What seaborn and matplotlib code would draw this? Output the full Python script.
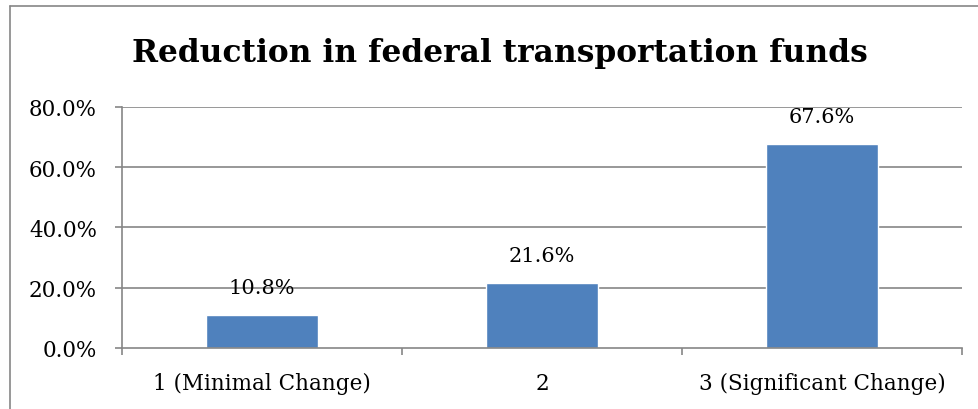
import pandas as pd
import numpy as np
import matplotlib
matplotlib.use("Agg")
import matplotlib.pyplot as plt
import seaborn as sns
from matplotlib.lines import Line2D

# Datos
categorias = ["1 (Minimal Change)", "2", "3 (Significant Change)"]
porcentajes = [10.8, 21.6, 67.6]
ticks_y = [0, 20, 40, 60, 80]

COLOR_BARRA = "#4F81BD"
GRIS = "#868686"

def generar_grafico():
    df = pd.DataFrame({"Categoria": categorias, "Porcentaje": porcentajes})

    sns.set_theme(style="white")
    plt.rcParams["font.family"] = ["DejaVu Serif", "Liberation Serif"]
    plt.rcParams["text.color"] = "black"
    plt.rcParams["xtick.labelcolor"] = "black"
    plt.rcParams["ytick.labelcolor"] = "black"

    fig = plt.figure(figsize=(9.79, 4.10), dpi=100)
    ax = fig.add_axes([0.1246, 0.1488, 0.858, 0.5878])

    sns.barplot(data=df, x="Categoria", y="Porcentaje", color=COLOR_BARRA,
                width=0.4, saturation=1, ax=ax)

    ax.set_ylim(0, 80)
    ax.set_xlim(-0.5, len(categorias) - 0.5)
    ax.set_yticks(ticks_y)
    ax.set_yticklabels([f"{v:.1f}%" for v in ticks_y], fontsize=15.5, color="black")

    # rejilla horizontal
    for v in ticks_y[1:]:
        ax.axhline(v, color=GRIS, linewidth=1.2, zorder=0)

    # marcas del eje x en los límites de categoría, etiquetas centradas
    ax.set_xticks(np.arange(-0.5, len(categorias), 1.0))
    ax.set_xticklabels([])
    ax.set_xticks(np.arange(len(categorias)), minor=True)
    ax.set_xticklabels(categorias, minor=True, fontsize=15.5, color="black")
    ax.tick_params(axis="x", which="minor", length=0, pad=17)
    ax.tick_params(axis="x", which="major", length=5, width=1.2, color=GRIS, direction="out", bottom=True)
    ax.tick_params(axis="y", length=5, width=1.2, color=GRIS, direction="out", left=True, pad=13)
    ax.set_xlabel("")
    ax.set_ylabel("")

    for lado in ["top", "right"]:
        ax.spines[lado].set_visible(False)
    for lado in ["left", "bottom"]:
        ax.spines[lado].set_color(GRIS)
        ax.spines[lado].set_linewidth(1.2)

    # etiquetas de valor
    for p, val in zip(ax.patches, porcentajes):
        ax.annotate(f"{val:.1f}%", (p.get_x() + p.get_width() / 2, val),
                    xytext=(0, 20), textcoords="offset points",
                    ha="center", va="center", fontsize=15, color="black")

    fig.suptitle("Reduction in federal transportation funds", x=0.511, y=0.87,
                 fontsize=22.5, fontweight="bold", va="center", color="black")

    # borde del área de gráfico (recortado arriba/izquierda)
    fig.add_artist(Line2D([10 / 979, 1.0], [1 - 7 / 410, 1 - 7 / 410],
                          transform=fig.transFigure, color=GRIS, linewidth=1.2))
    fig.add_artist(Line2D([10 / 979, 10 / 979], [0, 1 - 7 / 410],
                          transform=fig.transFigure, color=GRIS, linewidth=1.2))

    fig.savefig("out.png", dpi=100)

if __name__ == "__main__":
    generar_grafico()
